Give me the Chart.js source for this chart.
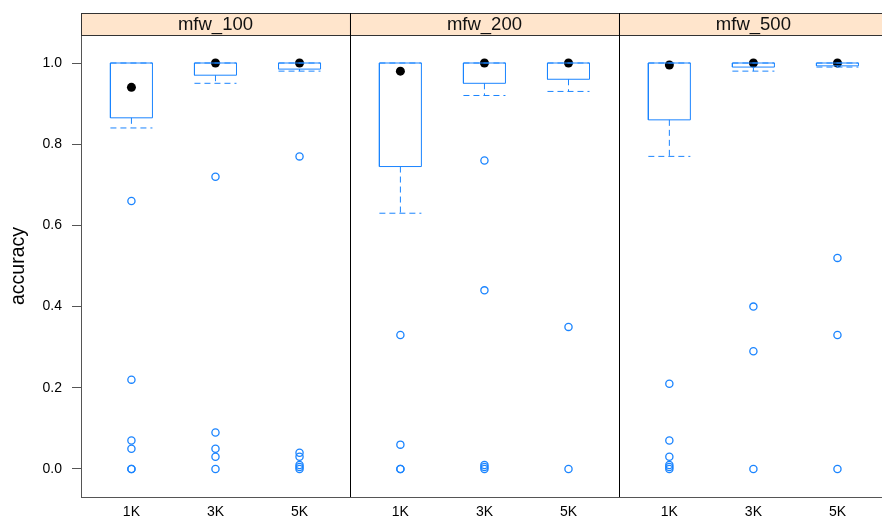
<!DOCTYPE html>
<html>
<head>
<meta charset="utf-8">
<script src="https://cdn.jsdelivr.net/npm/chart.js@4.4.1/dist/chart.umd.min.js"></script>
<style>
  html, body { margin: 0; padding: 0; background: #fff; overflow: hidden; }
  canvas { display: block; }
</style>
</head>
<body>
<canvas id="chart" width="882" height="521"></canvas>
<script>
// panels and groups of the lattice plot
const panels = ['mfw_100', 'mfw_200', 'mfw_500'];
const groups = ['1K', '3K', '5K'];

// box statistics, one value per panel/group (panel-major order)
const whiskerLow  = [0.84, 0.95, 0.98,  0.63, 0.92, 0.93,  0.77, 0.98, 0.99];
const boxLow      = [0.865, 0.97, 0.985, 0.745, 0.95, 0.96, 0.86, 0.99, 0.993];
const medians     = [0.94, 1.0, 1.0,    0.98, 1.0, 1.0,    0.995, 1.0, 1.0];
const boxHigh     = [1.0, 1.0, 1.0,     1.0, 1.0, 1.0,     1.0, 1.0, 1.0];
const whiskerHigh = [1.0, 1.0, 1.0,     1.0, 1.0, 1.0,     1.0, 1.0, 1.0];

// outlying points
const outliers = [
    [0.66, 0.22, 0.07, 0.05, 0.0, 0.0],
    [0.72, 0.09, 0.05, 0.03, 0.0],
    [0.77, 0.04, 0.03, 0.01, 0.005, 0.0],
    [0.33, 0.06, 0.0, 0.0],
    [0.76, 0.44, 0.01, 0.005, 0.0],
    [0.35, 0.0],
    [0.21, 0.07, 0.03, 0.01, 0.005, 0.0],
    [0.40, 0.29, 0.0],
    [0.52, 0.33, 0.0]
];

const yTicks = [0.0, 0.2, 0.4, 0.6, 0.8, 1.0];

const BLUE = '#1a84ff';
const FONT = '"Liberation Sans", Arial, sans-serif';
const panelSpan = 3.2;   // each panel covers 0.4 .. 3.6 in factor units
const half = 0.25;       // half box width in factor units

// x position of a group inside a panel
function posOf(i) {
    const panel = Math.floor(i / groups.length);
    const group = i % groups.length;
    return panel * panelSpan + group + 1;
}

const gap = {x: NaN, y: null};
const boxPts = [], whiskerPts = [], outlierPts = [], medianPts = [];
medians.forEach((m, i) => {
    const x = posOf(i);
    boxPts.push(
        {x: x - half, y: boxLow[i]}, {x: x + half, y: boxLow[i]},
        {x: x + half, y: boxHigh[i]}, {x: x - half, y: boxHigh[i]},
        {x: x - half, y: boxLow[i]}, gap
    );
    whiskerPts.push(
        {x: x, y: boxLow[i]}, {x: x, y: whiskerLow[i]}, gap,
        {x: x - half, y: whiskerLow[i]}, {x: x + half, y: whiskerLow[i]}, gap,
        {x: x, y: boxHigh[i]}, {x: x, y: whiskerHigh[i]}, gap,
        {x: x - half, y: whiskerHigh[i]}, {x: x + half, y: whiskerHigh[i]}, gap
    );
    outliers[i].forEach(v => outlierPts.push({x: x, y: v}));
    medianPts.push({x: x, y: m});
});

const xTickValues = medians.map((m, i) => posOf(i));

// strips and panel dividers
const latticePlugin = {
    id: 'lattice',
    afterDraw(chart) {
        const ctx = chart.ctx;
        const xs = chart.scales.x;
        const area = chart.chartArea;
        const stripH = 22;
        const top = area.top - stripH;
        ctx.save();
        panels.forEach((name, k) => {
            const x0 = xs.getPixelForValue(0.4 + k * panelSpan);
            const x1 = xs.getPixelForValue(0.4 + (k + 1) * panelSpan);
            ctx.fillStyle = '#ffe5cc';
            ctx.fillRect(x0, top, x1 - x0, stripH);
            ctx.strokeStyle = '#333';
            ctx.lineWidth = 1;
            ctx.strokeRect(Math.round(x0) + 0.5, top + 0.5, x1 - x0, stripH);
            ctx.fillStyle = '#111';
            ctx.font = '18.5px ' + FONT;
            ctx.textAlign = 'center';
            ctx.textBaseline = 'middle';
            ctx.fillText(name, (x0 + x1) / 2, top + stripH / 2 + 1);
            if (k > 0) {
                ctx.strokeStyle = '#000';
                ctx.beginPath();
                ctx.moveTo(Math.round(x0) + 0.5, top);
                ctx.lineTo(Math.round(x0) + 0.5, area.bottom);
                ctx.stroke();
            }
        });
        ctx.restore();
    }
};

new Chart(document.getElementById('chart'), {
    type: 'scatter',
    data: {
        datasets: [
            {
                data: whiskerPts, showLine: true, spanGaps: false,
                borderColor: BLUE, borderWidth: 1, borderDash: [6, 4],
                pointRadius: 0, tension: 0
            },
            {
                data: boxPts, showLine: true, spanGaps: false,
                borderColor: BLUE, borderWidth: 1,
                pointRadius: 0, tension: 0
            },
            {
                data: outlierPts, showLine: false,
                pointRadius: 3.6, pointBorderWidth: 1.3,
                borderColor: BLUE, backgroundColor: 'rgba(255,255,255,0)'
            },
            {
                data: medianPts, showLine: false,
                pointRadius: 4.5, pointBorderWidth: 0,
                borderColor: '#000', backgroundColor: '#000'
            }
        ]
    },
    options: {
        responsive: false,
        animation: false,
        devicePixelRatio: 1,
        layout: {autoPadding: false, padding: {top: 35, left: 0, right: 0, bottom: 0}},
        plugins: {legend: {display: false}, tooltip: {enabled: false}},
        scales: {
            x: {
                type: 'linear',
                min: 0.4,
                max: 9.93,
                afterFit(scale) {
                    scale.height = 24;
                    scale.paddingLeft = 0;
                    scale.paddingRight = 0;
                },
                afterBuildTicks(scale) {
                    scale.ticks = xTickValues.map(v => ({value: v}));
                },
                ticks: {
                    autoSkip: false, maxRotation: 0, padding: 7,
                    color: '#000',
                    font: {family: FONT, size: 14},
                    callback: (value, index) => groups[index % groups.length]
                },
                grid: {display: true, drawOnChartArea: false, drawTicks: false},
                border: {display: true, color: '#555', width: 1}
            },
            y: {
                type: 'linear',
                min: -0.069,
                max: 1.069,
                afterFit(scale) { scale.width = 81; },
                afterBuildTicks(scale) {
                    scale.ticks = yTicks.map(v => ({value: v}));
                },
                ticks: {
                    padding: 10, color: '#000',
                    font: {family: FONT, size: 14},
                    callback: v => v.toFixed(1)
                },
                grid: {drawOnChartArea: false, drawTicks: true, tickLength: 9, tickColor: '#555'},
                border: {display: true, color: '#555', width: 1},
                title: {
                    display: true, text: 'accuracy', color: '#000',
                    font: {family: FONT, size: 19.5},
                    padding: {top: 7, bottom: 0}
                }
            }
        }
    },
    plugins: [latticePlugin]
});
</script>
</body>
</html>
